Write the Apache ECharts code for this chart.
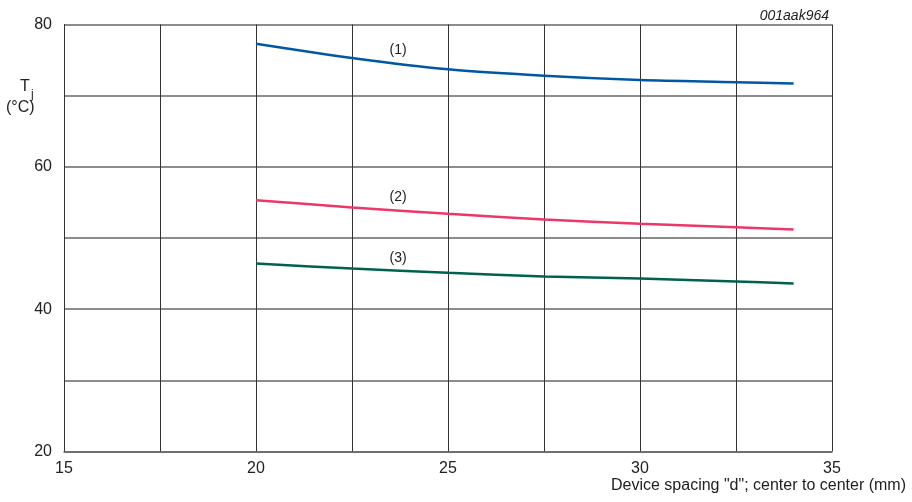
<!DOCTYPE html>
<html><head><meta charset="utf-8">
<script src="https://cdn.jsdelivr.net/npm/echarts@6/dist/echarts.min.js"></script>
<style>html,body{margin:0;padding:0;background:#fff}#c{width:912px;height:502px}</style>
</head><body><div id="c"></div>
<script>
const xValues = [20, 22.5, 25, 27.5, 30, 32.5, 34];
const curve1 = [77.3, 75.3, 73.7, 72.8, 72.2, 71.9, 71.7];
const curve2 = [55.3, 54.3, 53.4, 52.6, 52.0, 51.5, 51.2];
const curve3 = [46.4, 45.7, 45.1, 44.6, 44.3, 43.9, 43.6];
const curveNames = ['(1)', '(2)', '(3)'];
const labelPos = [[23.7, 76.4], [23.7, 55.8], [23.7, 47.1]];
const xTickLabels = ['15', '20', '25', '30', '35'];
const yTickLabels = ['20', '40', '60', '80'];

const colors = ['#0057a3', '#ec3769', '#00624e'];
const font = 'Liberation Sans, Arial, sans-serif';
const chart = echarts.init(document.getElementById('c'));
const series = [curve1, curve2, curve3].map((vals, i) => ({
  type: 'line', smooth: 0.3, showSymbol: false, symbol: 'none',
  data: xValues.map((x, j) => [x, vals[j]]),
  lineStyle: { color: colors[i], width: 2.5 },
  markPoint: {
    symbol: 'circle', symbolSize: 0,
    data: [{ coord: labelPos[i], label: { show: true, formatter: curveNames[i], color: '#222', fontSize: 14, fontFamily: font, position: 'inside' } }]
  },
  z: 3
}));
chart.setOption({
  animation: false,
  title: { text: '001aak964', right: 78, top: 4, textStyle: { fontStyle: 'italic', fontWeight: 'normal', fontSize: 14, color: '#222', fontFamily: font } },
  grid: { left: 64, right: 80, top: 24.5, bottom: 50.5, containLabel: false, outerBoundsMode: 'none' },
  graphic: [
    { type: 'text', left: 20, top: 79, style: { text: 'T', fontSize: 16, fill: '#222', fontFamily: font } },
    { type: 'text', left: 31, top: 89, style: { text: 'j', fontSize: 12, fill: '#222', fontFamily: font } },
    { type: 'text', left: 6, top: 100, style: { text: '(°C)', fontSize: 16, fill: '#222', fontFamily: font } }
  ],
  xAxis: {
    type: 'value', min: 15, max: 35, interval: 2.5,
    name: 'Device spacing "d"; center to center (mm)', nameLocation: 'end',
    nameTextStyle: { fontSize: 16, color: '#222', fontFamily: font, align: 'right', verticalAlign: 'top', padding: [26, -74, 0, 0] },
    nameGap: 0,
    axisLine: { show: true, lineStyle: { color: '#666', width: 1.5 } },
    axisTick: { show: false },
    axisLabel: { fontSize: 16, color: '#222', fontFamily: font, margin: 9,
      formatter: v => xTickLabels.includes(String(v)) ? String(v) : '' },
    splitLine: { show: true, lineStyle: { color: '#333', width: 1 } }
  },
  yAxis: {
    type: 'value', min: 20, max: 80, interval: 10,
    axisLine: { show: true, lineStyle: { color: '#333', width: 1 } },
    axisTick: { show: false },
    axisLabel: { fontSize: 16, color: '#222', fontFamily: font, margin: 12,
      formatter: v => yTickLabels.includes(String(v)) ? String(v) : '' },
    splitLine: { show: true, lineStyle: { color: '#666', width: 1.5 } }
  },
  series: series
});
</script></body></html>
